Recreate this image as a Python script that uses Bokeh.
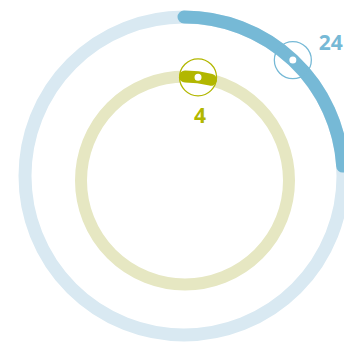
import math
from bokeh.plotting import figure
from bokeh.models import Range1d
from bokeh.core.properties import value
from bokeh.embed import file_html
from bokeh.resources import INLINE

# ---- data ----
series = ["outer", "inner"]
values = [24, 4]
max_value = 100
labels = ["24", "4"]

# ---- styles / layout ----
centers_x = [183.5, 184.5]
centers_y = [-175.5, -180.0]
radii = [159.0, 104.0]
ring_widths = [13, 12]
track_colors = ["#d9e9f2", "#e6e7c2"]
arc_colors = ["#76b9d6", "#b2b700"]
label_colors = ["#76b9d6", "#b2b700"]
label_dx = [38, 2]
label_dy = [-18, 38]

p = figure(width=344, height=343, output_backend="svg", toolbar_location=None,
           x_range=Range1d(0, 344), y_range=Range1d(-343, 0),
           min_border=0, outline_line_color=None, background_fill_color="white",
           border_fill_color="white")
p.axis.visible = False
p.grid.visible = False

for i in range(len(series)):
    cx, cy, r = centers_x[i], centers_y[i], radii[i]
    frac = values[i] / max_value
    start = math.pi / 2
    end = start - frac * 2 * math.pi
    mid = start - frac * math.pi
    mx = cx + r * math.cos(mid)
    my = cy + r * math.sin(mid)

    # background track
    p.arc(x=[cx], y=[cy], radius=[r], start_angle=[0], end_angle=[2 * math.pi],
          line_color=track_colors[i], line_width=ring_widths[i])
    # marker circle (white fill)
    p.scatter(x=[mx], y=[my], size=37, marker="circle", fill_color="white",
              fill_alpha=0.85, line_color=None)
    # value arc
    p.arc(x=[cx], y=[cy], radius=[r], start_angle=[start], end_angle=[end],
          direction="clock", line_color=arc_colors[i], line_width=ring_widths[i],
          line_cap="round")
    # marker outline
    p.scatter(x=[mx], y=[my], size=37, marker="circle", fill_color=None,
              line_color=arc_colors[i], line_width=1.3)
    # center dot
    p.scatter(x=[mx], y=[my], size=7, marker="circle", fill_color="white",
              line_color=None)
    # label
    p.text(x=[mx], y=[my], text=[labels[i]], x_offset=label_dx[i], y_offset=label_dy[i],
           text_align="center", text_baseline="middle",
           text_font=value("Open Sans"), text_font_style="bold",
           text_font_size="21px", text_color=label_colors[i])

open("out.html", "w").write(file_html(p, INLINE))
